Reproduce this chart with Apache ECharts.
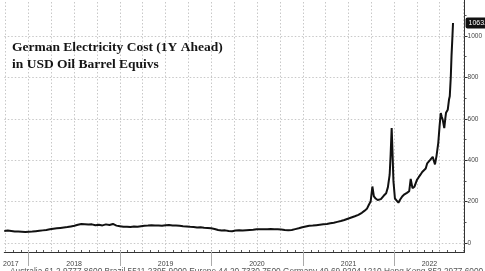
<!DOCTYPE html>
<html><head><meta charset="utf-8">
<script src="https://cdn.jsdelivr.net/npm/echarts@6/dist/echarts.min.js"></script>
<style>html,body{margin:0;padding:0;background:#fff}#c{width:485px;height:271px}</style>
</head><body><div id="c"></div>
<script>
const dates = [
'2017-09-26','2017-10-10','2017-10-24','2017-11-07','2017-11-21','2017-12-05','2017-12-19',
'2018-01-02','2018-01-16','2018-01-30','2018-02-13','2018-02-27','2018-03-13','2018-03-27','2018-04-10','2018-04-24','2018-05-08','2018-05-22','2018-06-05','2018-06-19','2018-07-03','2018-07-17','2018-07-31','2018-08-14','2018-08-28','2018-09-11','2018-09-25','2018-10-09','2018-10-23','2018-11-06','2018-11-20','2018-12-04','2018-12-18',
'2019-01-01','2019-01-15','2019-01-29','2019-02-12','2019-02-26','2019-03-12','2019-03-26','2019-04-09','2019-04-23','2019-05-07','2019-05-21','2019-06-04','2019-06-18','2019-07-02','2019-07-16','2019-07-30','2019-08-13','2019-08-27','2019-09-10','2019-09-24','2019-10-08','2019-10-22','2019-11-05','2019-11-19','2019-12-03','2019-12-17','2019-12-31',
'2020-01-14','2020-01-28','2020-02-11','2020-02-25','2020-03-10','2020-03-24','2020-04-07','2020-04-21','2020-05-05','2020-05-19','2020-06-02','2020-06-16','2020-06-30','2020-07-14','2020-07-28','2020-08-11','2020-08-25','2020-09-08','2020-09-22','2020-10-06','2020-10-20','2020-11-03','2020-11-17','2020-12-01','2020-12-15','2020-12-29',
'2021-01-12','2021-01-26','2021-02-09','2021-02-23','2021-03-09','2021-03-23','2021-04-06','2021-04-20','2021-05-04','2021-05-18','2021-06-01','2021-06-15','2021-06-29','2021-07-13','2021-07-27','2021-08-10','2021-08-24','2021-09-03','2021-09-13','2021-09-21','2021-09-28','2021-10-05','2021-10-11','2021-10-18','2021-10-26','2021-11-08','2021-11-19','2021-11-29','2021-12-06','2021-12-13','2021-12-17','2021-12-21','2021-12-24','2021-12-28',
'2022-01-03','2022-01-10','2022-01-17','2022-01-24','2022-02-01','2022-02-10','2022-02-20','2022-03-01','2022-03-07','2022-03-14','2022-03-22','2022-04-01','2022-04-08','2022-04-15','2022-04-22','2022-04-29','2022-05-06','2022-05-12','2022-05-18','2022-05-23','2022-05-29','2022-06-03','2022-06-08','2022-06-12','2022-06-18','2022-06-25','2022-06-30','2022-07-05','2022-07-09','2022-07-13','2022-07-19','2022-07-23','2022-07-26','2022-08-02','2022-08-07','2022-08-10','2022-08-14','2022-08-17','2022-08-20','2022-08-23'
];
const values = [
58,60,58,56,55,54,53,
54,55,57,59,61,63,66,69,71,73,75,77,80,83,88,92,91,89,90,86,88,85,90,87,92,84,
81,78,79,77,80,78,81,83,84,86,85,84,83,86,87,85,84,83,81,80,78,77,75,76,74,73,71,
68,63,60,61,58,57,60,62,60,62,63,64,66,67,66,67,68,67,66,65,63,62,63,67,71,76,
80,83,84,86,88,90,92,95,98,102,106,111,117,123,129,136,146,155,165,185,200,273,225,215,208,212,228,240,270,330,430,556,450,300,
215,205,195,210,225,235,242,250,310,265,272,305,318,330,343,350,360,385,392,400,405,416,395,380,420,482,560,628,610,595,555,600,629,644,693,709,800,904,980,1063
];
const yTicks = [0, 200, 400, 600, 800, 1000];
const yMinorTicks = [100, 300, 500, 700, 900, 1100];
const yearLabels = ['2017', '2018', '2019', '2020', '2021', '2022'];
const yearLabelDates = ['2017-10-22', '2018-07-02', '2019-07-02', '2020-07-01', '2021-07-02', '2022-05-21'];
const yearStarts = ['2018-01-01', '2019-01-01', '2020-01-01', '2021-01-01', '2022-01-01'];
const titleLines = ['German Electricity Cost (1Y Ahead)', 'in USD Oil Barrel Equivs'];
const footerText = 'Australia 61 2 9777 8600 Brazil 5511 2395 9000 Europe 44 20 7330 7500 Germany 49 69 9204 1210 Hong Kong 852 2977 6000';

const t = s => Date.UTC(+s.slice(0, 4), +s.slice(5, 7) - 1, +s.slice(8, 10));
const xMin = t('2017-09-26');
const xMax = t('2022-10-08');
const yMin = -43.5, yMax = 1174;
const quarterStarts = [];
const monthStarts = [];
for (let y = 2017; y <= 2022; y++) {
  for (let m = 1; m <= 12; m++) {
    const v = Date.UTC(y, m - 1, 1);
    if (v < xMin || v > xMax) continue;
    monthStarts.push(v);
    if ((m - 1) % 3 === 0) quarterStarts.push(v);
  }
}
const labelTs = yearLabelDates.map(t);
const lastVal = values[values.length - 1];

const chart = echarts.init(document.getElementById('c'), null, {renderer: 'canvas'});
const dotted = {color: '#c8c8c8', width: 1, type: [1.5, 2]};
chart.setOption({
  animation: false,
  backgroundColor: '#fff',
  grid: {left: 0, right: 20, top: 0, bottom: 19, containLabel: false},
  xAxis: [
    {type: 'value', min: xMin, max: xMax, position: 'bottom',
     axisLine: {show: true, onZero: false, lineStyle: {color: '#333', width: 1}},
     axisTick: {show: true, customValues: monthStarts, length: 2, inside: true, lineStyle: {color: '#555'}},
     axisLabel: {show: false},
     splitLine: {show: false}},
    {type: 'value', min: xMin, max: xMax, position: 'bottom',
     axisLine: {show: false, onZero: false},
     axisTick: {show: true, customValues: yearStarts.map(t), length: 14, lineStyle: {color: '#aaa'}},
     axisLabel: {show: true, customValues: labelTs, fontSize: 7, color: '#444', margin: 9,
       fontFamily: 'Liberation Sans', showMinLabel: true, showMaxLabel: true,
       formatter: v => yearLabels[labelTs.indexOf(v)] || ''},
     splitLine: {show: false}}
  ],
  yAxis: [
    {type: 'value', position: 'right', min: yMin, max: yMax,
     axisLine: {show: true, onZero: false, lineStyle: {color: '#333', width: 1}},
     axisTick: {show: true, customValues: yTicks, length: 3, lineStyle: {color: '#333'}},
     axisLabel: {show: true, customValues: yTicks, fontSize: 6.5, color: '#444', margin: 3,
       fontFamily: 'Liberation Sans', formatter: v => String(v)},
     splitLine: {show: false}},
    {type: 'value', position: 'right', min: yMin, max: yMax,
     axisLine: {show: false, onZero: false},
     axisTick: {show: true, customValues: yMinorTicks, length: 2, lineStyle: {color: '#555'}},
     axisLabel: {show: false}, splitLine: {show: false}}
  ],
  series: [
    {type: 'line', xAxisIndex: 0, yAxisIndex: 0, symbol: 'none', silent: true, z: 1,
     data: [[t(dates[0]), values[0]]],
     lineStyle: {opacity: 0},
     markLine: {
       silent: true, symbol: 'none', animation: false,
       lineStyle: dotted, label: {show: false},
       data: yTicks.map(v => ({yAxis: v})).concat(quarterStarts.map(v => ({xAxis: v})))
     }},
    {type: 'line', xAxisIndex: 0, yAxisIndex: 0, showSymbol: false, symbol: 'none', z: 5,
     data: dates.map((d, i) => [t(d), values[i]]),
     lineStyle: {color: '#111', width: 2},
     markLine: {
       silent: true, symbol: 'none', animation: false,
       lineStyle: {width: 1, color: 'rgba(0,0,0,0)'},
       data: [{yAxis: lastVal}],
       label: {show: true, position: 'end', distance: 1,
         formatter: () => lastVal.toFixed(2),
         backgroundColor: '#111', color: '#fff', fontSize: 7, padding: [2, 2, 2, 3], borderRadius: 2,
         fontFamily: 'Liberation Sans'}
     }}
  ],
  graphic: [
    {type: 'text', left: 12, top: 39, z: 10,
     style: {text: titleLines.join('\n'), font: 'bold 13.5px "Liberation Serif"', lineHeight: 17, fill: '#151515'}},
    {type: 'text', left: 10, top: 267.5, z: 10,
     style: {text: footerText, font: '8.3px "Liberation Sans"', fill: '#555'}}
  ]
});
</script></body></html>
